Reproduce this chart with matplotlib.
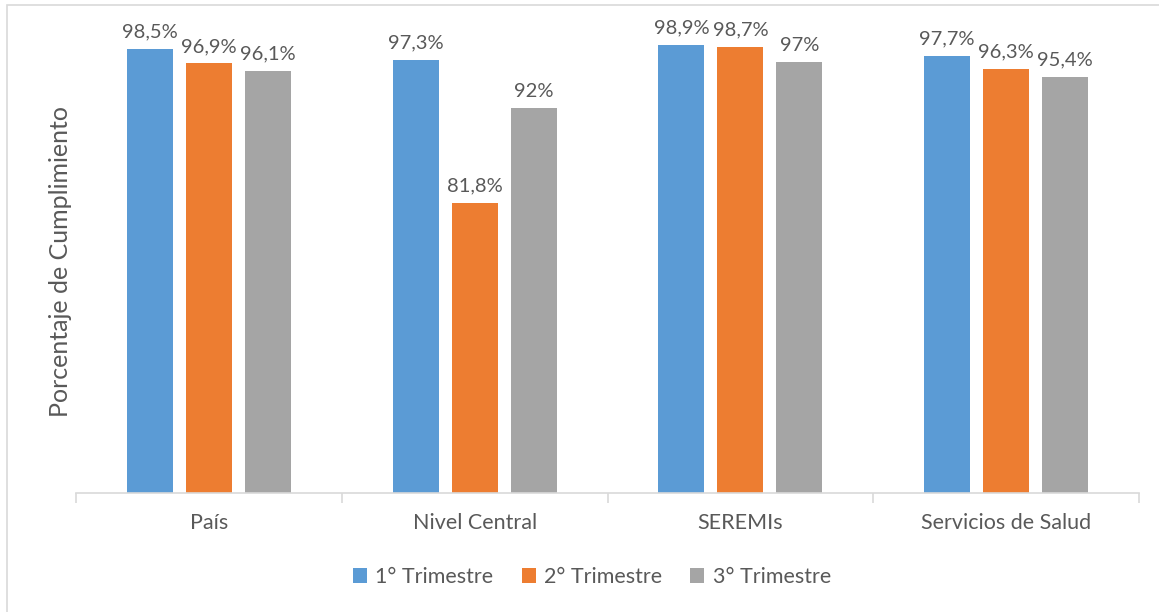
import numpy as np
import matplotlib.pyplot as plt
from matplotlib.patches import Rectangle

# Data
categories = ['País', 'Nivel Central', 'SEREMIs', 'Servicios de Salud']
series = ['1° Trimestre', '2° Trimestre', '3° Trimestre']
t1 = [98.5, 97.3, 98.9, 97.7]
t2 = [96.9, 81.8, 98.7, 96.3]
t3 = [96.1, 92.0, 97.0, 95.4]
labels_t1 = ['98,5%', '97,3%', '98,9%', '97,7%']
labels_t2 = ['96,9%', '81,8%', '98,7%', '96,3%']
labels_t3 = ['96,1%', '92%', '97%', '95,4%']

colors = ['#5B9BD5', '#ED7D31', '#A5A5A5']
text_color = '#595959'
plt.rcParams['font.family'] = ['Lato', 'DejaVu Sans']

W, H = 1159, 612
fig = plt.figure(figsize=(W / 100, H / 100), dpi=100)
ax = fig.add_axes([76 / W, (H - 492.5) / H, (1139 - 76) / W, (492.5 - 31) / H])

# outer chart border
fig.patches.append(Rectangle((7 / W, -0.1), 1.2, (H - 5) / H + 0.1,
                             transform=fig.transFigure, fill=False,
                             edgecolor='#D9D9D9', linewidth=1.2))

x = np.arange(len(categories))
width = 0.173
step = 0.222
for i, (vals, labs) in enumerate(zip([t1, t2, t3], [labels_t1, labels_t2, labels_t3])):
    pos = x + (i - 1) * step
    bars = ax.bar(pos, vals, width, color=colors[i], label=series[i], zorder=2)
    for b, lab in zip(bars, labs):
        ax.text(b.get_x() + b.get_width() / 2, b.get_height() + 0.9, lab,
                ha='center', va='bottom', fontsize=14.5, color=text_color, clip_on=False)

ax.set_xlim(-0.5, len(categories) - 0.5)
ax.set_ylim(50.35, 100.4)
ax.set_yticks([])
for s in ['top', 'right', 'left']:
    ax.spines[s].set_visible(False)
ax.spines['bottom'].set_color('#D9D9D9')
ax.spines['bottom'].set_linewidth(1.2)

# category ticks at boundaries
ax.set_xticks(np.arange(-0.5, len(categories)), minor=False)
ax.set_xticklabels([])
ax.tick_params(axis='x', length=7, color='#D9D9D9', width=1.2)
ax.set_xticks(x, minor=True)
ax.set_xticklabels(categories, minor=True, fontsize=15.5, color=text_color)
ax.tick_params(axis='x', which='minor', length=0, pad=15)

ax.set_ylabel('Porcentaje de Cumplimiento', fontsize=18, color=text_color, labelpad=3)

fig.legend(loc='center', bbox_to_anchor=(592 / W, (H - 577) / H), ncol=3, frameon=False,
           fontsize=15.5, labelcolor=text_color, handlelength=0.65, handleheight=0.65,
           handletextpad=0.4, columnspacing=1.3)

fig.savefig('out.png', dpi=100)
